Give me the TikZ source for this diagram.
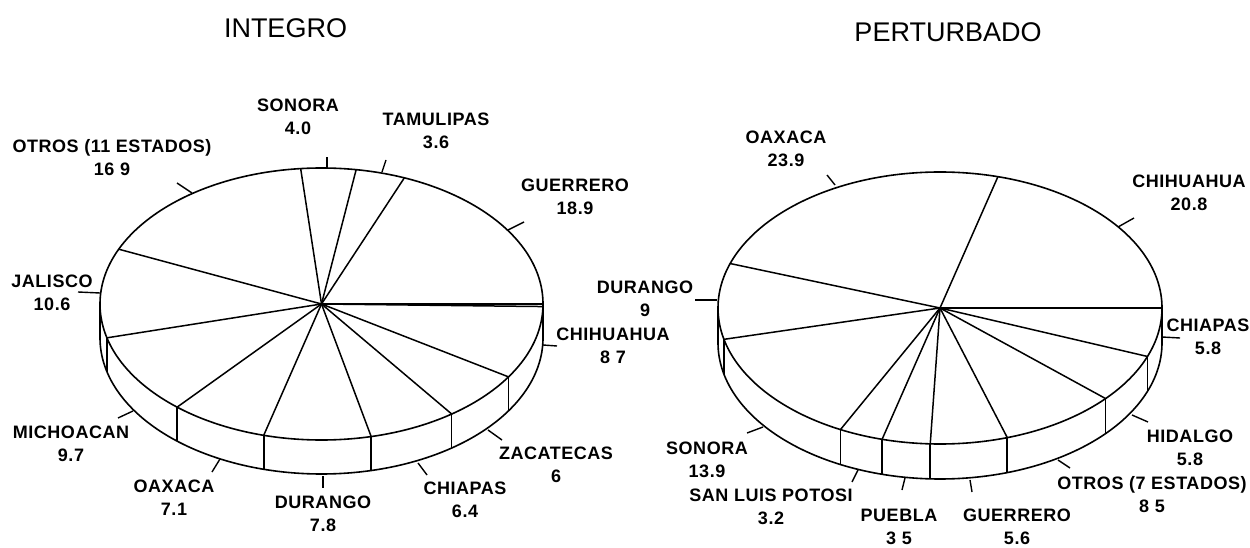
\documentclass[tikz,border=0pt]{standalone}
\usepackage{fontspec}
\setmainfont{Liberation Sans}
\newfontfamily\labfont[LetterSpace=3]{Liberation Sans}
\begin{document}
\begin{tikzpicture}[x=1pt,y=-1pt,
  rim/.style={line width=1.6pt, line join=round},
  spoke/.style={line width=1.5pt, line cap=round},
  tickmark/.style={line width=1.4pt},
  lab/.style={font=\labfont\bfseries\fontsize{18}{23}\selectfont, align=center, inner sep=0pt},
  ttl/.style={font=\fontsize{27}{30}\selectfont, inner sep=0pt, anchor=base}]
\useasboundingbox (0,0) rectangle (1250,548);
% ---------- titles
\node[ttl] (t1) at (285.5,38) {INTEGRO};
\node[ttl] (t2) at (948,42) {PERTURBADO};
% ---------- left pie
\def\pcx{321.5}\def\pcy{304}\def\pra{221.5}\def\prb{136}\def\pdh{34}
\coordinate (Lc) at (\pcx,\pcy);
\draw[rim] (Lc) ellipse [x radius=\pra pt, y radius=\prb pt];
\draw[rim] plot[domain=180:360, samples=120, smooth] ({\pcx+\pra*cos(\x)}, {\pcy+\pdh-\prb*sin(\x)});
\draw[rim] ({\pcx-\pra},\pcy) -- ++(0,\pdh);
\draw[rim] ({\pcx+\pra},\pcy) -- ++(0,\pdh);
\foreach \t in {0,68.04,81.0,95.4,156.24,194.4,229.32,254.88,282.96,306.0,327.6,358.92}
  \draw[spoke] (Lc) -- ({\pcx+\pra*cos(\t)},{\pcy-\prb*sin(\t)});
\foreach \t in {194.4,229.32,254.88,282.96,306.0,327.6,358.92}
  \draw[rim] ({\pcx+\pra*cos(\t)},{\pcy-\prb*sin(\t)}) -- ++(0,\pdh);
% ticks (left)
\draw[tickmark] (327,168) -- (327,157);
\draw[tickmark] (382,172) -- (386,160);
\draw[tickmark] (508,230) -- (524,222);
\draw[tickmark] (192,193) -- (177,183);
\draw[tickmark] (100,293) -- (78,292);
\draw[tickmark] (543,345) -- (557,346);
\draw[tickmark] (133,411) -- (118,418);
\draw[tickmark] (220,459) -- (212,472);
\draw[tickmark] (323,476) -- (323,488);
\draw[tickmark] (418,463) -- (427,475);
\draw[tickmark] (488,430) -- (502,440);
% labels (left)
\node[lab] (l1) at (298,116.5) {SONORA\\4.0};
\node[lab] (l2) at (436,131) {TAMULIPAS\\3.6};
\node[lab] (l3) at (112,157.5) {OTROS (11 ESTADOS)\\16 9};
\node[lab] (l4) at (575,197) {GUERRERO\\18.9};
\node[lab] (l5) at (52,293) {JALISCO\\10.6};
\node[lab] (l6) at (613,346) {CHIHUAHUA\\8 7};
\node[lab] (l7) at (71,443.5) {MICHOACAN\\9.7};
\node[lab] (l8) at (174,497.5) {OAXACA\\7.1};
\node[lab] (l9) at (323,514) {DURANGO\\7.8};
\node[lab] (l10) at (465,500) {CHIAPAS\\6.4};
\node[lab] (l11) at (556,465) {ZACATECAS\\6};
% ---------- right pie
\def\pcx{940}\def\pcy{308}\def\pra{222}\def\prb{136}\def\pdh{35}
\coordinate (Rc) at (\pcx,\pcy);
\draw[rim] (Rc) ellipse [x radius=\pra pt, y radius=\prb pt];
\draw[rim] plot[domain=180:360, samples=120, smooth] ({\pcx+\pra*cos(\x)}, {\pcy+\pdh-\prb*sin(\x)});
\draw[rim] ({\pcx-\pra},\pcy) -- ++(0,\pdh);
\draw[rim] ({\pcx+\pra},\pcy) -- ++(0,\pdh);
\foreach \t in {0,74.88,160.92,193.32,243.36,254.88,267.48,287.64,318.24,339.12}
  \draw[spoke] (Rc) -- ({\pcx+\pra*cos(\t)},{\pcy-\prb*sin(\t)});
\foreach \t in {193.32,243.36,254.88,267.48,287.64,318.24,339.12}
  \draw[rim] ({\pcx+\pra*cos(\t)},{\pcy-\prb*sin(\t)}) -- ++(0,\pdh);
% ticks (right)
\draw[tickmark] (835,185) -- (827,175);
\draw[tickmark] (1118,227) -- (1134,218);
\draw[tickmark] (717,300) -- (695,300);
\draw[tickmark] (1162,337) -- (1180,338);
\draw[tickmark] (1132,415) -- (1148,422);
\draw[tickmark] (1058,460) -- (1070,468);
\draw[tickmark] (970,480) -- (972,492);
\draw[tickmark] (905,478) -- (902,490);
\draw[tickmark] (858,470) -- (852,482);
\draw[tickmark] (763,427) -- (747,433);
% labels (right)
\node[lab] (r1) at (786,149) {OAXACA\\23.9};
\node[lab] (r2) at (1189,193) {CHIHUAHUA\\20.8};
\node[lab] (r3) at (645,299) {DURANGO\\9};
\node[lab] (r4) at (1208,337) {CHIAPAS\\5.8};
\node[lab] (r5) at (1190,447.5) {HIDALGO\\5.8};
\node[lab] (r6) at (707,459.5) {SONORA\\13.9};
\node[lab] (r7) at (1152,495) {OTROS (7 ESTADOS)\\8 5};
\node[lab] (r8) at (771,506.5) {SAN LUIS POTOSI\\3.2};
\node[lab] (r9) at (899,527) {PUEBLA\\3 5};
\node[lab] (r10) at (1017,527) {GUERRERO\\5.6};
\end{tikzpicture}
\end{document}
